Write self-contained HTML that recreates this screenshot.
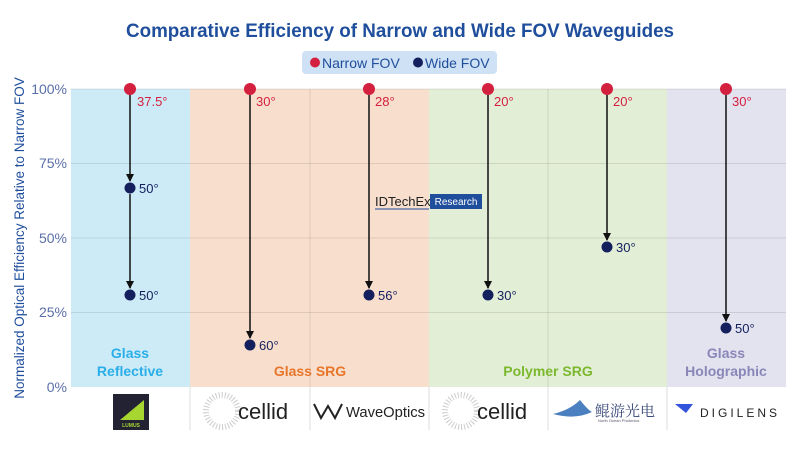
<!DOCTYPE html>
<html><head><meta charset="utf-8"><style>
body{margin:0;background:#fff;}
svg{display:block;font-family:"Liberation Sans","Noto Sans CJK SC",sans-serif;}
</style></head><body>
<svg width="800" height="450" viewBox="0 0 800 450" xmlns="http://www.w3.org/2000/svg">
<defs><marker id="ar" markerWidth="8" markerHeight="8" refX="7" refY="4" orient="auto" markerUnits="userSpaceOnUse"><path d="M0,0 L8,4 L0,8 z" fill="#111"/></marker></defs>
<text x="400" y="37" text-anchor="middle" font-size="19" font-weight="bold" fill="#1f4e9c" textLength="548" lengthAdjust="spacingAndGlyphs">Comparative Efficiency of Narrow and Wide FOV Waveguides</text>
<rect x="302" y="51" width="195" height="23" rx="4" fill="#cfe1f5"/>
<circle cx="315" cy="62.5" r="5" fill="#d4203f"/>
<text x="322" y="68" font-size="14" fill="#1f4e9c">Narrow FOV</text>
<circle cx="418" cy="62.5" r="5" fill="#14205e"/>
<text x="425" y="68" font-size="14" fill="#1f4e9c">Wide FOV</text>
<rect x="71" y="89" width="119" height="298" fill="#cdebf7"/>
<rect x="190" y="89" width="239" height="298" fill="#f8dfcd"/>
<rect x="429" y="89" width="238" height="298" fill="#e2eed6"/>
<rect x="667" y="89" width="119" height="298" fill="#e3e2ef"/>
<g stroke="#000" stroke-opacity="0.1" stroke-width="1">
<line x1="71" y1="163.5" x2="786" y2="163.5"/><line x1="71" y1="238" x2="786" y2="238"/><line x1="71" y1="312.5" x2="786" y2="312.5"/>
<line x1="310" y1="89" x2="310" y2="387"/><line x1="548" y1="89" x2="548" y2="387"/>
<line x1="71" y1="89" x2="786" y2="89"/>
</g>
<g stroke="#ddd" stroke-width="1">
<line x1="190" y1="387" x2="190" y2="430"/><line x1="310" y1="387" x2="310" y2="430"/><line x1="429" y1="387" x2="429" y2="430"/><line x1="548" y1="387" x2="548" y2="430"/><line x1="667" y1="387" x2="667" y2="430"/>
</g>
<g font-size="14" fill="#5a6fa8" text-anchor="end">
<text x="67" y="94">100%</text><text x="67" y="168">75%</text><text x="67" y="243">50%</text><text x="67" y="317">25%</text><text x="67" y="392">0%</text>
</g>
<text transform="translate(24,238) rotate(-90)" text-anchor="middle" font-size="13.5" fill="#1f4e9c">Normalized Optical Efficiency Relative to Narrow FOV</text>
<g stroke="#111" stroke-width="1.5" marker-end="url(#ar)">
<line x1="130" y1="95" x2="130" y2="181"/><line x1="130" y1="194" x2="130" y2="288"/>
<line x1="250" y1="95" x2="250" y2="338"/>
<line x1="369" y1="95" x2="369" y2="288"/>
<line x1="488" y1="95" x2="488" y2="288"/>
<line x1="607" y1="95" x2="607" y2="240"/>
<line x1="726" y1="95" x2="726" y2="321"/>
</g>
<g fill="#d4203f">
<circle cx="130" cy="89" r="6"/><circle cx="250" cy="89" r="6"/><circle cx="369" cy="89" r="6"/><circle cx="488" cy="89" r="6"/><circle cx="607" cy="89" r="6"/><circle cx="726" cy="89" r="6"/>
</g>
<g font-size="13" fill="#d4203f">
<text x="137" y="106">37.5°</text><text x="256" y="106">30°</text><text x="375" y="106">28°</text><text x="494" y="106">20°</text><text x="613" y="106">20°</text><text x="732" y="106">30°</text>
</g>
<g fill="#14205e">
<circle cx="130" cy="188" r="5.5"/><circle cx="130" cy="295" r="5.5"/><circle cx="250" cy="345" r="5.5"/><circle cx="369" cy="295" r="5.5"/><circle cx="488" cy="295" r="5.5"/><circle cx="607" cy="247" r="5.5"/><circle cx="726" cy="328" r="5.5"/>
</g>
<g font-size="13" fill="#14205e">
<text x="139" y="193">50°</text><text x="139" y="300">50°</text><text x="259" y="350">60°</text><text x="378" y="300">56°</text><text x="497" y="300">30°</text><text x="616" y="252">30°</text><text x="735" y="333">50°</text>
</g>
<text x="375" y="206" font-size="13" fill="#222">IDTechEx</text>
<line x1="375" y1="209" x2="429" y2="209" stroke="#1f4e9c"/>
<rect x="430" y="194" width="52" height="15" fill="#1f4e9c"/>
<text x="456" y="205" font-size="10" fill="#fff" text-anchor="middle">Research</text>
<g font-size="14" font-weight="bold" text-anchor="middle">
<text x="130" y="358" fill="#29aee8">Glass</text><text x="130" y="376" fill="#29aee8">Reflective</text>
<text x="310" y="376" fill="#e8752a">Glass SRG</text>
<text x="548" y="376" fill="#7cb82e">Polymer SRG</text>
<text x="726" y="358" fill="#8a86b8">Glass</text><text x="726" y="376" fill="#8a86b8">Holographic</text>
</g>
<rect x="113" y="394" width="36" height="36" fill="#222233"/>
<path d="M120,420 L144,400 L144,420 Z" fill="#a8d630"/>
<text x="131" y="427" font-size="5" fill="#a8d630" text-anchor="middle" font-weight="bold">LUMUS</text>
<circle cx="222" cy="411" r="16" fill="none" stroke="#ccc" stroke-width="6" stroke-dasharray="1 2"/>
<text x="238" y="419" font-size="22" fill="#222">cellid</text>
<circle cx="461" cy="411" r="16" fill="none" stroke="#ccc" stroke-width="6" stroke-dasharray="1 2"/>
<text x="477" y="419" font-size="22" fill="#222">cellid</text>
<path d="M314,404 L321,418 L328,406 L335,418 L342,404" fill="none" stroke="#222" stroke-width="2"/>
<text x="346" y="417" font-size="15" fill="#222" textLength="79" lengthAdjust="spacingAndGlyphs">WaveOptics</text>
<path d="M553,414 Q570,410 580,400 Q588,410 592,412 Q575,420 553,414 Z" fill="#4a7fc0"/>
<text x="595" y="416" font-size="15" fill="#3a4a7a" font-family="Noto Serif CJK SC,serif">鲲游光电</text>
<text x="598" y="422" font-size="4" fill="#556">North Ocean Photonics</text>
<path d="M675,404 L693,404 L686,413 Z" fill="#3355dd"/>
<text x="700" y="417" font-size="12" fill="#222" letter-spacing="3">DIGILENS</text>
</svg>
</body></html>
